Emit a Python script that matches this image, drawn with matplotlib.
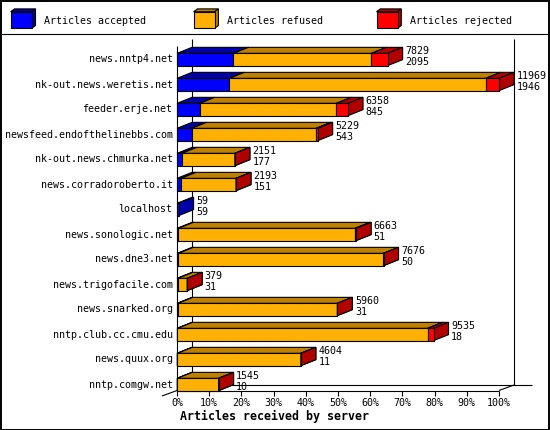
import matplotlib
matplotlib.use("Agg")
import matplotlib.pyplot as plt
from matplotlib.patches import Polygon

# ---------------- data ----------------
servers = ["news.nntp4.net", "nk-out.news.weretis.net", "feeder.erje.net",
           "newsfeed.endofthelinebbs.com", "nk-out.news.chmurka.net",
           "news.corradoroberto.it", "localhost", "news.sonologic.net",
           "news.dne3.net", "news.trigofacile.com", "news.snarked.org",
           "nntp.club.cc.cmu.edu", "news.quux.org", "nntp.comgw.net"]
totals = [7829, 11969, 6358, 5229, 2151, 2193, 59, 6663, 7676, 379, 5960, 9535, 4604, 1545]
accepted = [2095, 1946, 845, 543, 177, 151, 59, 51, 50, 31, 31, 18, 11, 10]
rejected = [600, 490, 430, 55, 0, 0, None, 40, 0, 0, 0, 220, 0, 0]
series_names = ["Articles accepted", "Articles refused", "Articles rejected"]
pct_ticks = [0, 10, 20, 30, 40, 50, 60, 70, 80, 90, 100]
xlabel = "Articles received by server"

refused = [None if r is None else t - a - r for t, a, r in zip(totals, accepted, rejected)]

# ---------------- style ----------------
FRONT = ["#0000FF", "#FFB000", "#FF0000"]
DARK = ["#0000A8", "#BF8000", "#B00000"]
MONO = "DejaVu Sans Mono"
FS = 7.2
LW = 0.8

W, H = 550, 430
PXX = 3.22      # pixels per percent
X0 = 177.0      # pixel of 0 %
ROW0 = 59.5     # pixel of first row centre
PXY = 25.0      # pixels per row

fig = plt.figure(figsize=(W / 100, H / 100), dpi=100)
fig.patch.set_facecolor("white")
ax = fig.add_axes([0, 0, 1, 1])
ax.set_axis_off()
ax.set_xlim(-X0 / PXX, (W - X0) / PXX)
ax.set_ylim((H - ROW0) / PXY, -ROW0 / PXY)


def px(xp):   # pixel x -> percent
    return (xp - X0) / PXX


def py(yp):   # pixel y -> row
    return (yp - ROW0) / PXY


dx = 15.0 / PXX
dy = 6.0 / PXY
hh = 6.15 / PXY

line_kw = dict(color="black", lw=LW, solid_capstyle="butt", zorder=1)
# back wall verticals
ax.plot([dx, dx], [py(39), py(385)], **line_kw)
ax.plot([100 + dx, 100 + dx], [py(39), py(385)], **line_kw)
# front left vertical
ax.plot([0, 0], [py(45.5), py(390.5)], **line_kw)
# floor
ax.plot([0, 100], [py(390.5), py(390.5)], **line_kw)
ax.plot([dx, px(532)], [py(385), py(385)], **line_kw)
ax.plot([100, 100 + dx], [py(390.5), py(385)], **line_kw)
ax.plot([-dx, 0], [py(396), py(390.5)], **line_kw)

# ticks + labels
for t in pct_ticks:
    ax.plot([t, t], [py(390.5), py(395.5)], **line_kw)
    ax.text(t, py(403.5), f"{t}%", ha="center", va="center",
            fontsize=FS, family=MONO)

scale = max(totals)
z = 2
for i, name in enumerate(servers):
    y = i
    vals = [accepted[i], refused[i], rejected[i]]
    start = 0
    for k, v in enumerate(vals):
        if v is None:
            continue
        x0 = start / scale * 100
        x1 = (start + v) / scale * 100
        top = [(x0, y - hh), (x1, y - hh), (x1 + dx, y - hh - dy), (x0 + dx, y - hh - dy)]
        side = [(x1, y - hh), (x1 + dx, y - hh - dy), (x1 + dx, y + hh - dy), (x1, y + hh)]
        front = [(x0, y - hh), (x1, y - hh), (x1, y + hh), (x0, y + hh)]
        for poly, col in ((top, DARK[k]), (side, DARK[k]), (front, FRONT[k])):
            ax.add_patch(Polygon(poly, closed=True, facecolor=col, edgecolor="black",
                                 lw=LW, joinstyle="miter", zorder=z))
            z += 1
        start += v
    xend = totals[i] / scale * 100 + dx + 2.5 / PXX
    ax.text(xend, y - 8.5 / PXY, f"{totals[i]}", ha="left", va="center",
            fontsize=FS, family=MONO, zorder=z)
    ax.text(xend, y + 2.5 / PXY, f"{accepted[i]}", ha="left", va="center",
            fontsize=FS, family=MONO, zorder=z)
    ax.text(px(172.5), y, name, ha="right", va="center", fontsize=FS, family=MONO)

ax.text(px(180), py(416.7), xlabel, ha="left", va="center",
        fontsize=8.4, family=MONO, fontweight="bold")

# legend area
LH = 34
lax = fig.add_axes([0, 1 - LH / H, 1, LH / H])
lax.set_axis_off()
lax.set_xlim(0, W)
lax.set_ylim(LH, 0)
for k, nm in enumerate(series_names):
    bx = 10.7 + 182.9 * k
    bw, bt, bb = 21.0, 11.7, 28.3
    ldx, ldy = 3.8, 2.8
    top = [(bx, bt), (bx + bw, bt), (bx + bw + ldx, bt - ldy), (bx + ldx, bt - ldy)]
    side = [(bx + bw, bt), (bx + bw + ldx, bt - ldy), (bx + bw + ldx, bb - ldy), (bx + bw, bb)]
    front = [(bx, bt), (bx + bw, bt), (bx + bw, bb), (bx, bb)]
    for poly, col in ((top, DARK[k]), (side, DARK[k]), (front, FRONT[k])):
        lax.add_patch(Polygon(poly, closed=True, facecolor=col, edgecolor="black",
                              lw=LW, joinstyle="miter"))
    lax.text(bx + 33.6, 20.7, nm, ha="left", va="center", fontsize=FS, family=MONO)

# separator line and border
fig.add_artist(plt.Line2D([0, 1], [1 - 33.5 / H, 1 - 33.5 / H], color="black", lw=LW))
fig.add_artist(plt.Rectangle((0.5 / W, 0.5 / H), 1 - 1.5 / W, 1 - 1.5 / H, fill=False,
                             edgecolor="black", lw=1.4))

fig.savefig("out.png", dpi=100, facecolor="white")
